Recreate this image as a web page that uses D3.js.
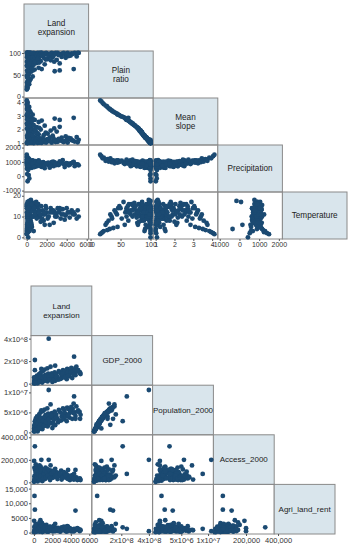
<!DOCTYPE html>
<html>
<head>
<meta charset="utf-8">
<script src="https://cdn.jsdelivr.net/npm/d3@7"></script>
<style>
body { margin: 0; background: #fff; }
</style>
</head>
<body>
<svg id="chart" width="351" height="550"></svg>
<script>
// ---- top matrix data (one entry per region) ----
var landExpA = [120,350,800,1500,2200,2900,3400,4100,4800,5200,
  50,200,90,260,600,1100,1800,2500,3800,4500,
  30,150,420,700,950,1300,2000,2700,3100,4300,
  80,310,520,1650,3600,60,180,400,650,900,
  1200,1600,2100,2600,3000,3500,3900,4400,5000,20,
  110,230,330,480,750,1050,1400,1900,2300,2750,
  3300,70,280,560,850,1700,2400,130,380,1000,
  40,160,300,500,800,1200,1800,2800,3300,90,
  210,440,620,1500,25,360,700,10,50,120,
  200,80,30,150,250,60,15,100,40,5,
  400,600,300,70,180,4700,20,100,170,240,
  330,450,550,680,780,880,1000,1150,1250,1350,
  1450,1550,1750,1950,2150,2350,2650,2850,3200,3700,
  4000,4200,4650,5100,40,140,270,360,470,590,
  730,830,1080,1250,140,260,520,45,190,90];
var plainRatio = [100,100,99,100,98,100,97,100,100,100,
  100,99,100,100,96,100,99,100,98,99,
  100,100,97,100,98,100,97,99,100,96,
  99,100,95,96,99,92,88,85,90,82,
  87,93,86,90,84,91,89,94,92,80,
  78,83,86,79,84,88,81,85,92,80,
  76,94,90,87,93,89,83,85,91,77,
  72,68,65,70,62,66,74,58,60,55,
  52,57,60,63,70,67,73,48,45,42,
  38,35,32,30,28,25,22,20,18,16,
  40,46,36,27,33,63,100,98,97,99,
  95,100,98,94,99,97,95,99,93,98,
  100,94,97,100,95,98,93,97,95,100,
  96,93,98,100,90,86,83,88,81,89,
  84,80,86,78,70,75,64,60,50,44];
var meanSlope = [1.02,1.05,1.10,1.03,1.15,1.08,1.20,1.05,1.12,1.25,
  1.00,1.04,1.01,1.06,1.18,1.02,1.09,1.04,1.14,1.22,
  1.03,1.07,1.11,1.00,1.16,1.05,1.28,1.19,1.10,1.30,
  1.08,1.02,1.24,1.26,1.13,1.45,1.60,1.75,1.50,1.90,
  1.65,1.35,1.70,1.55,1.85,1.40,1.50,1.35,1.45,2.05,
  2.15,1.95,1.80,2.10,1.88,1.62,2.00,1.78,1.42,2.08,
  2.20,1.38,1.52,1.68,1.40,1.58,1.92,1.82,1.48,2.18,
  2.35,2.50,2.60,2.40,2.70,2.55,2.28,2.80,2.70,2.90,
  2.95,2.85,2.75,2.65,2.45,2.52,2.32,3.05,3.10,3.20,
  3.30,3.40,3.50,3.55,3.65,3.75,3.85,3.95,4.05,4.12,
  3.25,3.08,3.35,3.70,3.45,2.85,1.04,1.12,1.20,1.09,
  1.28,1.03,1.14,1.33,1.07,1.21,1.30,1.10,1.37,1.17,
  1.06,1.34,1.22,1.05,1.29,1.15,1.40,1.24,1.32,1.09,
  1.27,1.38,1.18,1.07,1.55,1.72,1.85,1.62,1.97,1.56,
  1.83,2.03,1.74,2.12,2.42,2.26,2.62,2.74,2.98,3.15];
var precipitation = [850,720,900,650,780,820,950,880,700,760,
  150,80,-350,-150,1000,1050,560,980,640,910,
  520,430,760,680,870,940,830,700,900,810,
  620,1100,590,990,1120,800,950,700,880,760,
  820,700,900,850,780,960,870,900,820,900,
  1000,650,1050,840,920,990,730,880,600,940,
  860,720,580,1080,800,930,770,980,890,690,
  950,870,1000,780,900,1100,820,960,1040,920,
  1080,850,990,900,1150,700,1010,1000,950,1050,
  1100,980,1150,1020,1200,1080,1300,1250,1400,1500,
  900,1100,1000,1130,1250,1000,780,950,820,700,
  880,1000,760,920,640,1060,800,870,720,960,
  830,900,780,870,950,690,1010,860,780,850,
  920,760,980,830,1020,870,930,790,1000,850,
  700,960,880,1020,780,1060,900,1150,1050,1100];
var temperature = [14,9,12,8,10,11,9,12,11,10,
  6,17,4,17.5,16,15,6,13,8.5,13,
  2,0,18,3,17,10,12,7,14,9.5,
  10,13,5,11,13.5,9,12,8,15,11,
  10,13,9,12,10,11,10.5,12,9,16,
  7,14,17,6,13,14.5,7.5,15,6,12.5,
  13,11,3,10,16,8,14,15,4,9.5,
  14,16,12,10,15,13,11,12,14,17,
  9,6,13,8,15.5,11,16.5,15,5,12,
  4.5,10,4,8,3.5,6,3,2.5,2,1.5,
  13,14,9,7,11,12,12,8,15,11,
  13,7,16,10,14,12,9,16,13,11,
  15,9,12,14,10,12,13,10,12,11,
  14,12,11,13,14,10,16,12,13,15,
  14,11,16,12,13,15,16,10,14,11];

// ---- bottom matrix data ----
var landExpB = [30,80,150,220,300,380,450,520,600,680,
  760,840,920,1000,1100,1200,1300,1400,1500,1650,
  1750,1850,1950,2050,2150,2250,2400,2550,2700,2850,
  3000,3150,3300,3450,3600,3750,3900,4050,4200,4400,
  4600,4800,4950,50,120,200,260,340,420,560,
  640,720,880,960,1050,1150,1250,1350,1450,1550,
  2000,2300,2600,2950,3250,3550,3850,4150,4500,5050,
  10,100,180,400,900,100,1600,4350,4500,60,
  100,20,800,1800,3700,5000,4300,700,2300,60,
  140,240,320,410,490,580,660,740,820,980,
  1080,1180,1280,1380,1480,1600,1700,1900,2100,2450,
  2800,3100,3400,3700,4000,4300,4700,200,600];
var gdp2000 = [0.05e8,0.10e8,0.15e8,0.08e8,0.20e8,0.30e8,0.12e8,0.25e8,0.40e8,0.18e8,
  0.50e8,0.35e8,0.22e8,0.60e8,0.45e8,0.28e8,0.70e8,0.55e8,0.33e8,0.80e8,
  0.65e8,0.42e8,0.90e8,0.75e8,0.52e8,1.00e8,0.85e8,0.60e8,1.10e8,0.95e8,
  0.70e8,1.20e8,1.05e8,0.80e8,1.30e8,1.15e8,0.90e8,1.40e8,1.25e8,1.00e8,
  1.50e8,1.20e8,0.95e8,0.30e8,0.45e8,0.60e8,0.20e8,0.70e8,0.55e8,0.85e8,
  0.32e8,0.95e8,0.65e8,1.10e8,0.38e8,1.25e8,0.78e8,0.48e8,1.35e8,0.88e8,
  0.15e8,0.25e8,0.35e8,0.45e8,0.55e8,0.40e8,0.65e8,0.50e8,0.75e8,0.85e8,
  0.02e8,0.06e8,0.04e8,0.03e8,0.09e8,2.10e8,4.00e8,2.40e8,1.40e8,0.25e8,
  1.20e8,0.55e8,1.30e8,1.50e8,1.00e8,1.00e8,1.10e8,0.40e8,1.60e8,0.12e8,
  0.20e8,0.28e8,0.10e8,0.35e8,0.18e8,0.45e8,0.28e8,0.60e8,0.15e8,0.50e8,
  0.25e8,0.65e8,0.40e8,0.75e8,0.20e8,0.58e8,0.35e8,0.72e8,0.30e8,0.62e8,
  0.40e8,0.90e8,0.60e8,0.72e8,1.05e8,0.80e8,1.10e8,0.08e8,0.15e8];
var population2000 = [0.3e6,0.6e6,0.9e6,0.5e6,1.2e6,1.6e6,0.7e6,1.4e6,2.2e6,1.0e6,
  2.8e6,2.0e6,1.3e6,3.2e6,2.5e6,1.7e6,3.8e6,3.0e6,1.9e6,4.2e6,
  3.5e6,2.4e6,4.8e6,4.0e6,3.1e6,5.2e6,4.5e6,3.4e6,5.6e6,5.0e6,
  4.0e6,6.0e6,5.4e6,4.6e6,6.2e6,5.8e6,4.9e6,6.4e6,5.9e6,5.0e6,
  6.5e6,5.5e6,5.1e6,1.8e6,2.6e6,3.5e6,2.0e6,4.0e6,3.2e6,4.5e6,
  2.4e6,5.0e6,3.6e6,5.3e6,2.7e6,5.7e6,4.3e6,3.0e6,6.0e6,4.7e6,
  1.1e6,1.8e6,2.5e6,3.0e6,3.3e6,2.8e6,3.7e6,3.4e6,4.1e6,4.4e6,
  0.2e6,0.4e6,0.35e6,0.25e6,0.8e6,2.8e6,10.6e6,9.0e6,3.4e6,1.3e6,
  1.9e6,1.0e6,5.5e6,7.0e6,4.0e6,3.4e6,7.2e6,2.0e6,4.5e6,0.9e6,
  1.3e6,1.9e6,0.8e6,2.3e6,1.2e6,2.9e6,1.8e6,3.6e6,1.1e6,3.0e6,
  1.6e6,3.9e6,2.6e6,4.4e6,1.5e6,3.3e6,2.2e6,4.1e6,2.1e6,3.8e6,
  2.9e6,4.6e6,3.9e6,4.3e6,5.3e6,4.8e6,5.2e6,0.6e6,1.0e6];
var access2000 = [10000,25000,40000,60000,80000,100000,20000,50000,90000,110000,
  35000,70000,15000,55000,95000,30000,65000,120000,45000,85000,
  20000,105000,60000,40000,75000,50000,90000,30000,70000,55000,
  25000,65000,45000,80000,35000,60000,20000,50000,40000,30000,
  45000,25000,35000,130000,110000,90000,140000,60000,120000,80000,
  100000,140000,40000,115000,85000,50000,130000,75000,95000,60000,
  100000,120000,85000,105000,90000,70000,55000,65000,40000,20000,
  5000,15000,30000,8000,12000,320000,200000,75000,110000,55000,
  55000,190000,200000,150000,110000,30000,25000,130000,60000,30000,
  65000,85000,45000,100000,70000,20000,95000,55000,115000,35000,
  75000,105000,45000,90000,60000,110000,35000,80000,95000,50000,
  75000,40000,60000,30000,55000,35000,20000,160000,150000];
var agriLandRent = [300,600,200,1000,400,1500,800,2200,300,1200,
  600,1800,900,400,2500,700,1100,300,1600,500,
  2000,800,1300,400,2300,700,1500,600,1000,300,
  1800,800,1200,500,2200,700,1400,400,1000,600,
  900,1300,500,2000,1400,3000,500,800,2400,1700,
  600,2100,3200,900,1900,1400,700,2600,1100,350,
  1000,500,1600,900,2000,300,1500,700,1200,800,
  150,900,500,1300,200,1800,500,1300,7500,12500,
  7800,4000,1500,900,2000,1000,800,4200,3000,700,
  1100,400,1900,800,1300,500,1600,900,2300,1200,
  500,1800,1000,600,1400,800,1900,1100,700,1300,
  500,900,1700,600,1100,400,1500,2600,3500];

// ---- tick values and labels ----
var landTicks = [0, 2000, 4000, 6000];
var plainTicks = [0, 50, 100];
var slopeTicks = [1, 2, 3, 4];
var precipTicks = [-1000, 0, 1000, 2000];
var tempTicks = [0, 10, 20];
var gdpTicks = [0, 2e8, 4e8];
var gdpTickLabels = ["0", "2x10^8", "4x10^8"];
var popTicks = [0, 5e6, 1e7];
var popTickLabels = ["0", "5x10^6", "1x10^7"];
var accessTicks = [0, 200000, 400000];
var accessTickLabels = ["0", "200,000", "400,000"];
var rentTicks = [0, 5000, 10000, 15000];
var rentTickLabels = ["0", "5000", "10,000", "15,000"];
// the bottom x axes of the second matrix leave out the zero label
var gdpXTicks = [2e8, 4e8];
var gdpXTickLabels = ["2x10^8", "4x10^8"];
var popXTicks = [5e6, 1e7];
var popXTickLabels = ["5x10^6", "1x10^7"];
var accessXTicks = [200000, 400000];
var accessXTickLabels = ["200,000", "400,000"];

var dotColor = "#1b4a72";
var headFill = "#d9e5ec";
var gridColor = "#8a8a8a";

var svg = d3.select("#chart");

var topVars = [
  { label: ["Land", "expansion"], values: landExpA, domain: [-270, 6190], ticks: landTicks },
  { label: ["Plain", "ratio"], values: plainRatio, domain: [-3.3, 104.5], ticks: plainTicks },
  { label: ["Mean", "slope"], values: meanSlope, domain: [0.87, 4.3], ticks: slopeTicks },
  { label: ["Precipitation"], values: precipitation, domain: [-1100, 2180], ticks: precipTicks },
  { label: ["Temperature"], values: temperature, domain: [-0.8, 21.8], ticks: tempTicks }
];

var bottomVars = [
  { label: ["Land", "expansion"], values: landExpB, domain: [-320, 6270], ticks: landTicks },
  { label: ["GDP_2000"], values: gdp2000, domain: [-0.14e8, 4.27e8], ticks: gdpTicks, labels: gdpTickLabels,
    xTicks: gdpXTicks, xLabels: gdpXTickLabels },
  { label: ["Population_2000"], values: population2000, domain: [-0.6e6, 1.18e7], xDomain: [-0.36e6, 1.1e7],
    ticks: popTicks, labels: popTickLabels, xTicks: popXTicks, xLabels: popXTickLabels },
  { label: ["Access_2000"], values: access2000, domain: [-18000, 422000], xDomain: [-4000, 376000],
    ticks: accessTicks, labels: accessTickLabels, xTicks: accessXTicks, xLabels: accessXTickLabels },
  { label: ["Agri_land_rent"], values: agriLandRent, domain: [-480, 16430], ticks: rentTicks, labels: rentTickLabels }
];

drawMatrix(topVars, {
  left: 24, top: 4, cw: 64.6, ch: 47,
  tickFont: "'Liberation Sans', Arial, sans-serif", tickSize: 7,
  headFont: "'Liberation Sans', Arial, sans-serif", headSize: 8.2
});

drawMatrix(bottomVars, {
  left: 31, top: 286, cw: 60.8, ch: 49.6,
  tickFont: "'Liberation Sans', Arial, sans-serif", tickSize: 7.5,
  headFont: "'Liberation Sans', Arial, sans-serif", headSize: 8
});

function drawMatrix(vars, opt){
  var n = vars.length;
  var g = svg.append("g");

  var xs = vars.map(function(v, j){
    return d3.scaleLinear().domain(v.xDomain || v.domain).range([opt.left + j * opt.cw, opt.left + (j + 1) * opt.cw]);
  });
  var ys = vars.map(function(v, i){
    return d3.scaleLinear().domain(v.domain).range([opt.top + (i + 1) * opt.ch, opt.top + i * opt.ch]);
  });

  // cell frames, diagonal ones filled as headers
  for (var i = 0; i < n; i++) {
    for (var j = 0; j <= i; j++) {
      g.append("rect")
        .attr("x", xs[j].range()[0])
        .attr("y", ys[i].range()[1])
        .attr("width", opt.cw)
        .attr("height", opt.ch)
        .attr("fill", i == j ? headFill : "none")
        .attr("stroke", gridColor)
        .attr("stroke-width", 1);
    }
  }

  // header labels
  vars.forEach(function(v, i){
    var cx = opt.left + (i + 0.5) * opt.cw;
    var cy = opt.top + (i + 0.5) * opt.ch;
    var lineH = 9;
    var text = g.append("text")
      .attr("text-anchor", "middle")
      .attr("font-family", opt.headFont)
      .attr("font-size", opt.headSize)
      .attr("fill", "#222")
      .attr("y", cy - (v.label.length - 1) * lineH / 2);
    v.label.forEach(function(s, k){
      text.append("tspan")
        .attr("x", cx)
        .attr("dy", k == 0 ? "0.35em" : lineH)
        .text(s);
    });
  });

  // scatter cells below the diagonal
  for (var r = 1; r < n; r++) {
    for (var c = 0; c < r; c++) {
      (function(r, c){
        g.append("g").selectAll("circle")
          .data(d3.range(vars[r].values.length))
          .enter()
          .append("circle")
          .attr("cx", function(k){ return xs[c](vars[c].values[k]); })
          .attr("cy", function(k){ return ys[r](vars[r].values[k]); })
          .attr("r", 2.4)
          .attr("fill", dotColor);
      })(r, c);
    }
  }

  // y axes on the left
  for (var a = 1; a < n; a++) {
    (function(v){
      var ax = d3.axisLeft(ys[a]).tickValues(v.ticks).tickSize(2).tickPadding(1)
        .tickFormat(function(d, k){ return v.labels ? v.labels[k] : d; });
      styleAxis(g.append("g").attr("transform", "translate(" + opt.left + ",0)").call(ax), opt);
    })(vars[a]);
  }

  // x axes at the bottom
  for (var b = 0; b < n - 1; b++) {
    (function(v){
      var tv = v.xTicks || v.ticks;
      var tl = v.xLabels || v.labels;
      var ax = d3.axisBottom(xs[b]).tickValues(tv).tickSize(2).tickPadding(1.5)
        .tickFormat(function(d, k){ return tl ? tl[k] : d; });
      styleAxis(g.append("g").attr("transform", "translate(0," + (opt.top + n * opt.ch) + ")").call(ax), opt);
    })(vars[b]);
  }
}

function styleAxis(sel, opt){
  sel.select(".domain").remove();
  sel.selectAll(".tick line").attr("stroke", "#555");
  sel.selectAll(".tick text")
    .attr("fill", "#333")
    .attr("font-family", opt.tickFont)
    .attr("font-size", opt.tickSize);
}
</script>
</body>
</html>
